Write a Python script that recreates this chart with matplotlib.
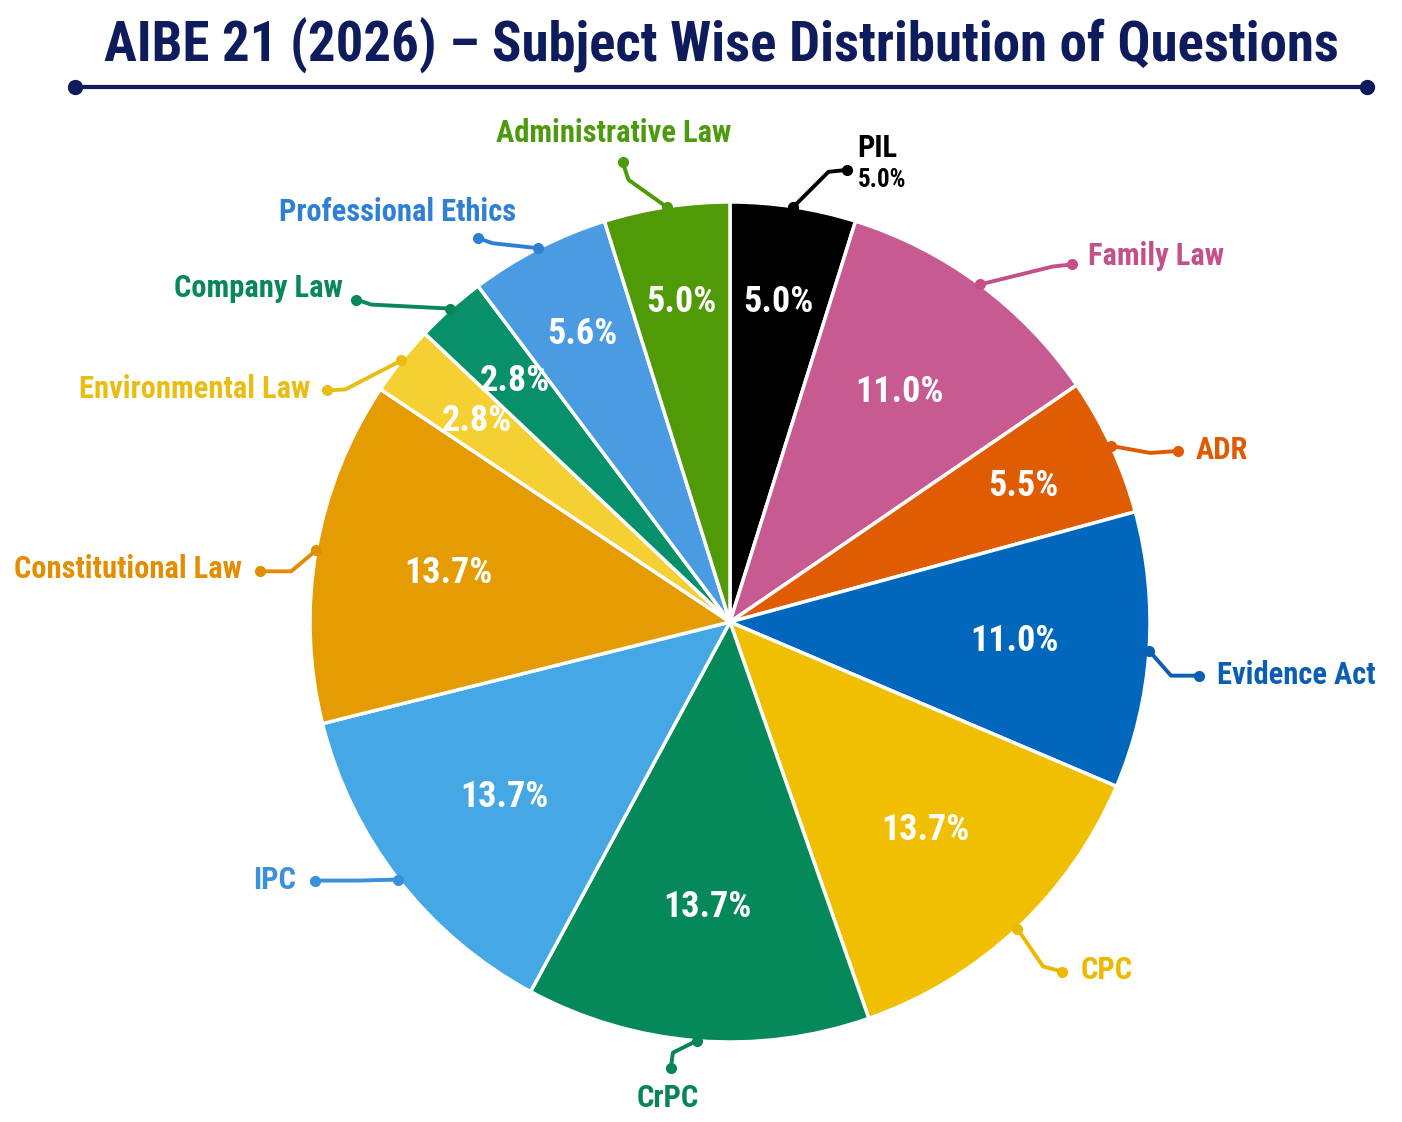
import matplotlib
matplotlib.use("Agg")
import numpy as np
import matplotlib.pyplot as plt

plt.rcParams["font.family"] = ["Roboto Condensed", "Liberation Sans Narrow",
                               "DejaVu Sans Condensed", "DejaVu Sans"]
plt.rcParams["font.stretch"] = "condensed"
plt.rcParams["font.weight"] = "bold"

# data, clockwise from 12 o'clock
subjects = ["PIL", "Family Law", "ADR", "Evidence Act", "CPC", "CrPC", "IPC",
            "Constitutional Law", "Environmental Law", "Company Law",
            "Professional Ethics", "Administrative Law"]
shares = [5.0, 11.0, 5.5, 11.0, 13.7, 13.7, 13.7, 13.7, 2.8, 2.8, 5.6, 5.0]

slice_colors = ["#000000", "#C75A90", "#E05C02", "#0167BC", "#F1BF02", "#06895A",
                "#46A7E5", "#E59B02", "#F4D033", "#07906A", "#4B9BE3", "#4F9A06"]
text_colors = ["#000000", "#C4508A", "#E05A00", "#0B5EB2", "#EDB800", "#078554",
               "#3A90DC", "#E28E00", "#E9BE14", "#08875A", "#2F80D5", "#4E9A0E"]

NAVY = "#0E1B5C"
CX, CY, R = 730, 500, 420

# leader layout: elbow and end offsets from the rim anchor, then text offset from end (px)
leaders = {
    "PIL": ((35, 35), (54, 37), (10, 6), "left"),
    "Family Law": ((73, 18), (92, 20), (16, 8), "left"),
    "ADR": ((39, -7), (67, -5), (17, 1), "left"),
    "Evidence Act": ((22, -25), (50, -25), (18, 1), "left"),
    "CPC": ((26, -38), (45, -43), (18, 2), "left"),
    "CrPC": ((-24, -12), (-26, -27), (-3, -30), "center"),
    "IPC": ((-40, -1), (-83, -1), (-19, 1), "right"),
    "Constitutional Law": ((-25, -21), (-56, -21), (-18, 2), "right"),
    "Environmental Law": ((-56, -29), (-74, -30), (-17, 1), "right"),
    "Company Law": ((-79, 4), (-94, 9), (-14, 12), "right"),
    "Professional Ethics": ((-46, 5), (-60, 10), (-81, 26), "center"),
    "Administrative Law": ((-38, 27), (-44, 45), (-9, 29), "center"),
}

fig = plt.figure(figsize=(14.02, 11.22), dpi=100)
ax = fig.add_axes([0, 0, 1, 1])

wedges, _ = ax.pie(shares, colors=slice_colors, startangle=90, counterclock=False,
                   center=(CX, CY), radius=R,
                   wedgeprops=dict(edgecolor="white", linewidth=2.5))

for w, name, val, tc in zip(wedges, subjects, shares, text_colors):
    mid = np.deg2rad((w.theta1 + w.theta2) / 2)
    # percentage inside the slice
    rf = 0.77 if val < 6 else 0.68
    ax.text(CX + rf * R * np.cos(mid), CY + rf * R * np.sin(mid), f"{val:.1f}%",
            color="white", fontsize=26, fontweight="bold", ha="center", va="center")

    # leader line with dots
    ax_, ay_ = CX + R * np.cos(mid), CY + R * np.sin(mid)
    (ex, ey), (dx, dy), (tx, ty), ha = leaders[name]
    xs = [ax_, ax_ + ex, ax_ + dx]
    ys = [ay_, ay_ + ey, ay_ + dy]
    ax.plot(xs, ys, color=tc, lw=2.8, solid_capstyle="round",
            solid_joinstyle="round", zorder=5)
    ax.plot([xs[0], xs[-1]], [ys[0], ys[-1]], "o", color=tc, ms=7, zorder=6)

    lx, ly = xs[-1] + tx, ys[-1] + ty
    if name == "PIL":
        ax.text(lx, ly + 16, name, color=tc, fontsize=22, fontweight="bold",
                ha="left", va="center")
        ax.text(lx, ly - 16, f"{val:.1f}%", color=tc, fontsize=18, fontweight="bold",
                ha="left", va="center")
    else:
        ax.text(lx, ly, name, color=tc, fontsize=22, fontweight="bold",
                ha=ha, va="center")

# title and rule
ax.text(721, 1122 - 45, "AIBE 21 (2026) \u2013 Subject Wise Distribution of Questions",
        color=NAVY, fontsize=39.5, fontweight="heavy", ha="center", va="center")
ax.plot([75, 1367], [1122 - 87, 1122 - 87], color=NAVY, lw=3)
ax.plot([75, 1367], [1122 - 87, 1122 - 87], "o", color=NAVY, ms=10)

ax.set_xlim(0, 1402)
ax.set_ylim(0, 1122)
ax.set_aspect("equal")
ax.axis("off")

fig.savefig("out.png", dpi=100, facecolor="white")
